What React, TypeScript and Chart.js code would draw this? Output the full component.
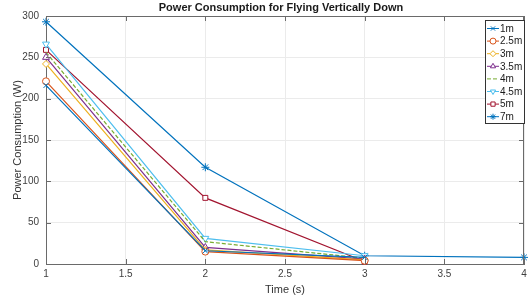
import React, { useEffect, useRef } from 'react';
import { Chart, registerables } from 'chart.js';
import { drawPoint } from 'chart.js/helpers';

Chart.register(...registerables);

const chartTitle = 'Power Consumption for Flying Vertically Down';
const xLabel = 'Time (s)';
const yLabel = 'Power Consumption (W)';

const times = [1, 2, 3, 4];
const seriesNames = ['1m', '2.5m', '3m', '3.5m', '4m', '4.5m', '5m', '7m'];
const s1m = [216, 16, 8];
const s2_5m = [221, 15, 4];
const s3m = [242, 17, 5];
const s3_5m = [250, 20, 6];
const s4m = [256, 27, 7];
const s4_5m = [266, 31, 10];
const s5m = [259, 80, 3];
const s7m = [293, 117, 10, 8];
const seriesValues = [s1m, s2_5m, s3m, s3_5m, s4m, s4_5m, s5m, s7m];

const xMin = 1, xMax = 4, xStep = 0.5;
const yMin = 0, yMax = 300, yStep = 50;

const styles = [
  { color: '#0072BD', pointStyle: 'crossRot', rotation: 0, radius: 3.5, dash: [] as number[] },
  { color: '#D95319', pointStyle: 'circle', rotation: 0, radius: 3.5, dash: [] },
  { color: '#EDB120', pointStyle: 'rectRot', rotation: 0, radius: 3.5, dash: [] },
  { color: '#7E2F8E', pointStyle: 'triangle', rotation: 0, radius: 4, dash: [] },
  { color: '#77AC30', pointStyle: 'circle', rotation: 0, radius: 0, dash: [4, 2] },
  { color: '#4DBEEE', pointStyle: 'triangle', rotation: 180, radius: 4, dash: [] },
  { color: '#A2142F', pointStyle: 'rect', rotation: 0, radius: 3.5, dash: [] },
  { color: '#0072BD', pointStyle: 'star', rotation: 0, radius: 4, dash: [] },
];

const FONT = "'Liberation Sans', Arial, Helvetica, sans-serif";

const decorPlugin = {
  id: 'decor',
  afterDraw(chart: any) {
    const { ctx, chartArea } = chart;
    const { left, right, top, bottom } = chartArea;
    const xs = chart.scales.x;
    const ys = chart.scales.y;
    ctx.save();
    // frame
    ctx.strokeStyle = '#6a6a6a';
    ctx.lineWidth = 1;
    ctx.beginPath();
    ctx.moveTo(left, top + 0.5);
    ctx.lineTo(right, top + 0.5);
    ctx.moveTo(right - 0.5, top);
    ctx.lineTo(right - 0.5, bottom);
    ctx.stroke();
    // inward ticks
    ctx.beginPath();
    xs.ticks.forEach((t: any) => {
      const px = Math.round(xs.getPixelForValue(t.value)) + 0.5;
      ctx.moveTo(px, bottom);
      ctx.lineTo(px, bottom - 5);
      ctx.moveTo(px, top);
      ctx.lineTo(px, top + 5);
    });
    ys.ticks.forEach((t: any) => {
      const py = Math.round(ys.getPixelForValue(t.value)) + 0.5;
      ctx.moveTo(left, py);
      ctx.lineTo(left + 5, py);
      ctx.moveTo(right, py);
      ctx.lineTo(right - 5, py);
    });
    ctx.stroke();
    // title
    ctx.fillStyle = '#1a1a1a';
    ctx.font = `bold 11px ${FONT}`;
    ctx.textAlign = 'center';
    ctx.textBaseline = 'middle';
    ctx.fillText(chartTitle, (left + right) / 2 - 4, 8);
    // legend
    const bx = 485, by = 20, bw = 39, bh = 103;
    ctx.fillStyle = '#ffffff';
    ctx.fillRect(bx, by, bw, bh);
    ctx.strokeStyle = '#333333';
    ctx.strokeRect(bx + 0.5, by + 0.5, bw, bh);
    chart.data.datasets.forEach((ds: any, i: number) => {
      const st = styles[i];
      const y = by + 8.5 + i * 12.6;
      ctx.strokeStyle = st.color;
      ctx.lineWidth = 1;
      ctx.setLineDash(st.dash);
      ctx.beginPath();
      ctx.moveTo(487, y);
      ctx.lineTo(499, y);
      ctx.stroke();
      ctx.setLineDash([]);
      if (st.radius > 0) {
        ctx.fillStyle = st.pointStyle === 'star' || st.pointStyle === 'crossRot' ? st.color : '#ffffff';
        drawPoint(ctx, { pointStyle: st.pointStyle, rotation: st.rotation, radius: 3, borderWidth: 1 } as any, 493, y);
      }
      ctx.fillStyle = '#1a1a1a';
      ctx.font = `10px ${FONT}`;
      ctx.textAlign = 'left';
      ctx.textBaseline = 'middle';
      ctx.fillText(ds.label, 500, y + 0.5);
    });
    ctx.restore();
  },
};

export default function App() {
  const ref = useRef<HTMLCanvasElement | null>(null);
  useEffect(() => {
    document.body.style.margin = '0';
    const canvas = ref.current!;
    const datasets = seriesNames.map((name, i) => {
      const st = styles[i];
      return {
        label: name,
        data: seriesValues[i].map((v, j) => ({ x: times[j], y: v })),
        borderColor: st.color,
        backgroundColor: st.pointStyle === 'star' || st.pointStyle === 'crossRot' ? st.color : '#ffffff',
        pointBorderColor: st.color,
        pointBackgroundColor: st.pointStyle === 'star' || st.pointStyle === 'crossRot' ? st.color : '#ffffff',
        pointStyle: st.pointStyle,
        rotation: st.rotation,
        pointRadius: st.radius,
        pointBorderWidth: 1,
        borderWidth: 1.2,
        borderDash: st.dash,
        tension: 0,
        clip: false as any,
      };
    });
    const chart = new Chart(canvas, {
      type: 'line',
      data: { datasets },
      plugins: [decorPlugin],
      options: {
        animation: false,
        responsive: false,
        devicePixelRatio: 1,
        layout: { padding: { left: 0, top: 16, right: 1.5, bottom: 0 } },
        plugins: { legend: { display: false }, tooltip: { enabled: false }, title: { display: false } },
        scales: {
          x: {
            type: 'linear',
            min: xMin,
            max: xMax,
            ticks: {
              stepSize: xStep,
              padding: 4,
              color: '#404040',
              font: { family: FONT, size: 10 },
              callback: (v: any) => String(v),
              maxRotation: 0,
              autoSkip: false,
            },
            grid: { color: '#ebebeb', drawTicks: false, lineWidth: 1 },
            border: { color: '#6a6a6a', width: 1 },
            title: { display: true, text: xLabel, color: '#333333', font: { family: FONT, size: 11 }, padding: { top: 0, bottom: 4 } },
            afterFit: (s: any) => { s.height = 37; s.paddingLeft = 0; s.paddingRight = 0; },
          },
          y: {
            type: 'linear',
            min: yMin,
            max: yMax,
            ticks: {
              stepSize: yStep,
              padding: 7,
              color: '#404040',
              font: { family: FONT, size: 10 },
            },
            grid: { color: '#ebebeb', drawTicks: false, lineWidth: 1 },
            border: { color: '#6a6a6a', width: 1 },
            title: { display: true, text: yLabel, color: '#333333', font: { family: FONT, size: 11 }, padding: { top: 11, bottom: 0 } },
            afterFit: (s: any) => { s.width = 46; s.paddingTop = 0; s.paddingBottom = 0; },
          },
        },
      },
    });
    return () => chart.destroy();
  }, []);
  return <canvas ref={ref} width={529} height={301} style={{ display: 'block' }} />;
}
